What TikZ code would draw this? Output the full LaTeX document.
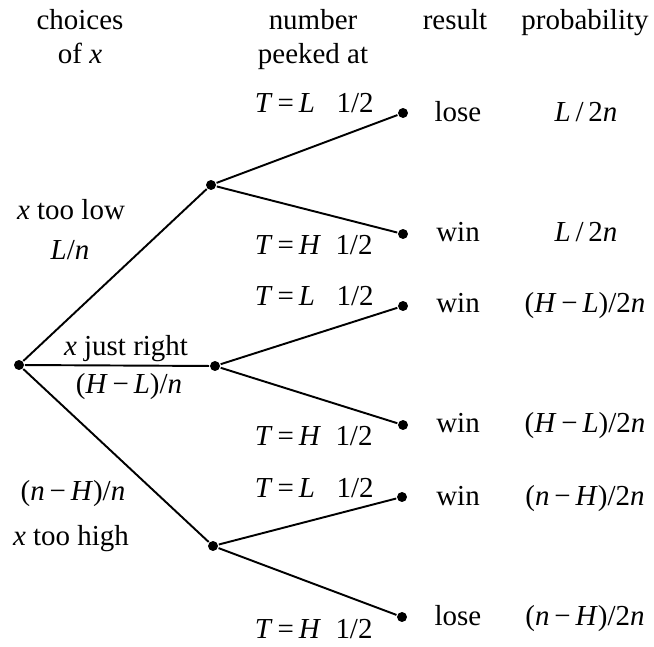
\documentclass[tikz,border=0pt]{standalone}
\usepackage{fontspec}
\setmainfont{Liberation Serif}

\newcommand{\va}[1]{\textit{#1}}
\newcommand{\mn}{\,−\,}

\begin{document}
\begin{tikzpicture}[x=0.01455cm,y=-0.01455cm,font=\fontsize{12}{14.1}\selectfont,
   dot/.style={circle,fill,minimum size=1.45mm,inner sep=0pt},
   lbl/.style={anchor=base,inner sep=0pt},
   brl/.style={anchor=base west,inner sep=0pt},
   line width=0.8pt]
  \useasboundingbox (0,0) rectangle (654,646);
  % headings (base = last line)
  \node[lbl,align=center] (hx)   at (80,64)  {choices\\of \va{x}};
  \node[lbl,align=center] (hT)   at (313,64) {number\\peeked at};
  \node[lbl] (hres)  at (455,30) {result};
  \node[lbl] (hprob) at (585,30) {probability};
  % tree
  \node[dot] (root) at (19,365)  {};
  \node[dot] (lo)   at (211,185) {};
  \node[dot] (ok)   at (215,366) {};
  \node[dot] (hi)   at (213,546) {};
  \node[dot] (l1) at (403,113) {};
  \node[dot] (l2) at (403,234) {};
  \node[dot] (l3) at (403,306) {};
  \node[dot] (l4) at (403,425) {};
  \node[dot] (l5) at (402,497) {};
  \node[dot] (l6) at (402,617) {};
  \draw (root)--(lo);
  \draw (root)--(ok);
  \draw (root)--(hi);
  \draw (lo)--(l1);
  \draw (lo)--(l2);
  \draw (ok)--(l3);
  \draw (ok)--(l4);
  \draw (hi)--(l5);
  \draw (hi)--(l6);
  % first level
  \node[lbl] (tlo)  at (71,220)  {\va{x} too low};
  \node[lbl] (plo)  at (70,260)  {\va{L}/\va{n}};
  \node[lbl] (tok)  at (126,355) {\va{x} just right};
  \node[lbl] (pok)  at (129,393) {(\va{H}\mn\va{L})/\va{n}};
  \node[lbl] (phi)  at (73,500)  {(\va{n}\mn\va{H})/\va{n}};
  \node[lbl] (thi)  at (71,545)  {\va{x} too high};
  % second level
  \node[brl] (b1) at (254,113) {\va{T}\,=\,\va{L}\hspace{0.75em}1/2};
  \node[brl] (b2) at (254,255) {\va{T}\,=\,\va{H}\enspace 1/2};
  \node[brl] (b3) at (254,306) {\va{T}\,=\,\va{L}\hspace{0.75em}1/2};
  \node[brl] (b4) at (254,445) {\va{T}\,=\,\va{H}\enspace 1/2};
  \node[brl] (b5) at (254,497) {\va{T}\,=\,\va{L}\hspace{0.75em}1/2};
  \node[brl] (b6) at (254,638) {\va{T}\,=\,\va{H}\enspace 1/2};
  % results
  \node[lbl] (r1) at (458,122) {lose};
  \node[lbl] (r2) at (458,242) {win};
  \node[lbl] (r3) at (458,312) {win};
  \node[lbl] (r4) at (458,432) {win};
  \node[lbl] (r5) at (458,505) {win};
  \node[lbl] (r6) at (458,625) {lose};
  \node[lbl] (p1) at (586,122) {\va{L}\,/\,2\va{n}};
  \node[lbl] (p2) at (586,242) {\va{L}\,/\,2\va{n}};
  \node[lbl] (p3) at (585,312) {(\va{H}\mn\va{L})/2\va{n}};
  \node[lbl] (p4) at (585,432) {(\va{H}\mn\va{L})/2\va{n}};
  \node[lbl] (p5) at (585,505) {(\va{n}\mn\va{H})/2\va{n}};
  \node[lbl] (p6) at (585,625) {(\va{n}\mn\va{H})/2\va{n}};
\end{tikzpicture}
\end{document}
